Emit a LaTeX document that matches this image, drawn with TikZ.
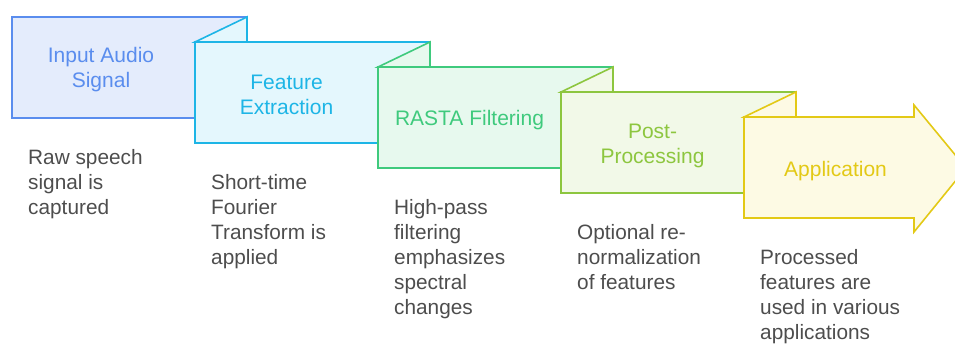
\documentclass[tikz,border=0pt]{standalone}
\usepackage{fontspec}
\setmainfont{Liberation Sans}
\definecolor{sA}{HTML}{5A8DEE}\definecolor{fA}{HTML}{E4ECFC}
\definecolor{sB}{HTML}{1DB5E6}\definecolor{fB}{HTML}{E4F7FD}
\definecolor{sC}{HTML}{3FCA7D}\definecolor{fC}{HTML}{E7F9EE}
\definecolor{sD}{HTML}{8DC63F}\definecolor{fD}{HTML}{F2F9E8}
\definecolor{sE}{HTML}{E3C916}\definecolor{fE}{HTML}{FDFAE4}
\definecolor{descgray}{HTML}{4D4D4D}
\begin{document}
\begin{tikzpicture}[x=1pt,y=-1pt,
  boxshape/.style={line width=1.6pt, line join=miter},
  lbl/.style={font=\fontsize{21}{25}\selectfont, align=center, inner sep=0pt},
  desc/.style={font=\fontsize{20.8}{25}\selectfont, text=descgray, align=left, anchor=north west, inner sep=0pt}]
\useasboundingbox (0,0) rectangle (955,344);
\clip (0,0) rectangle (955,344);
% box 1
\filldraw[boxshape, draw=sA, fill=fA] (12,17) rectangle (247,118);
% box 2
\filldraw[boxshape, draw=sB, fill=fB] (195,42) rectangle (430,143);
\filldraw[boxshape, draw=sB, fill=fB] (195,42) -- (247,17) -- (247,42) -- cycle;
% box 3
\filldraw[boxshape, draw=sC, fill=fC] (378,67) rectangle (613,168);
\filldraw[boxshape, draw=sC, fill=fC] (378,67) -- (430,42) -- (430,67) -- cycle;
% box 4
\filldraw[boxshape, draw=sD, fill=fD] (561,92) rectangle (796,193);
\filldraw[boxshape, draw=sD, fill=fD] (561,92) -- (613,67) -- (613,92) -- cycle;
% box 5 (arrow)
\filldraw[boxshape, draw=sE, fill=fE] (744,117) -- (914,117) -- (914,105) -- (966,168) -- (914,232) -- (914,218) -- (744,218) -- cycle;
\filldraw[boxshape, draw=sE, fill=fE] (744,117) -- (796,92) -- (796,117) -- cycle;
% labels
\node[lbl, text=sA] (l1) at (101,70) {Input Audio\\Signal};
\node[lbl, text=sB] (l2) at (286.5,95) {Feature\\Extraction};
\node[lbl, text=sC] (l3) at (469.5,120.5) {RASTA Filtering};
\node[lbl, text=sD] (l4) at (652.5,145.5) {Post-\\Processing};
\node[lbl, text=sE] (l5) at (835.5,171) {Application};
% descriptions
\node[desc] (d1) at (28,149) {Raw speech\\signal is\\captured};
\node[desc] (d2) at (211,174) {Short-time\\Fourier\\Transform is\\applied};
\node[desc] (d3) at (394,199) {High-pass\\filtering\\emphasizes\\spectral\\changes};
\node[desc] (d4) at (577,224) {Optional re-\\normalization\\of features};
\node[desc] (d5) at (760,249) {Processed\\features are\\used in various\\applications};
\end{tikzpicture}
\end{document}
